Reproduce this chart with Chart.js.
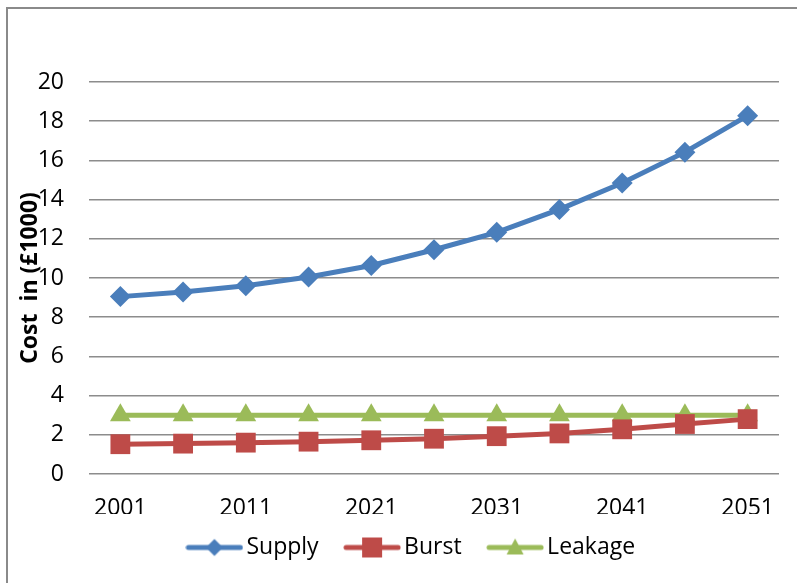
<!DOCTYPE html>
<html>
<head>
<meta charset="utf-8">
<script src="https://cdn.jsdelivr.net/npm/chart.js@4/dist/chart.umd.min.js"></script>
<style>
  html, body { margin: 0; padding: 0; background: #fff; }
  canvas { display: block; }
</style>
</head>
<body>
<canvas id="c" width="797" height="583"></canvas>
<script>
// Projected annual costs, 2001–2051 in five-year steps
const years = ['2001', '2006', '2011', '2016', '2021', '2026', '2031', '2036', '2041', '2046', '2051'];
const supply  = [9.05, 9.28, 9.60, 10.05, 10.64, 11.44, 12.33, 13.50, 14.85, 16.42, 18.28];
const burst   = [1.52, 1.55, 1.60, 1.65, 1.72, 1.80, 1.93, 2.07, 2.28, 2.55, 2.80];
const leakage = [3.0, 3.0, 3.0, 3.0, 3.0, 3.0, 3.0, 3.0, 3.0, 3.0, 3.0];
const yTicks  = { min: 0, max: 20, step: 2 };
const yTitle  = 'Cost  in (£1000)';

const FONT = "'Open Sans', 'DejaVu Sans', sans-serif";
const BLUE = '#4A7EBB', RED = '#BE4B48', GREEN = '#9BBB59';

// Legend swatch: a short line with the series marker on top
function legendSwatch(color, marker) {
  const cv = document.createElement('canvas');
  cv.width = 58; cv.height = 24;
  const g = cv.getContext('2d');
  g.strokeStyle = color; g.fillStyle = color;
  g.lineWidth = 5; g.lineCap = 'round';
  g.beginPath(); g.moveTo(3, 12); g.lineTo(55, 12); g.stroke();
  g.beginPath();
  if (marker === 'diamond') {
    g.moveTo(29, 3.5); g.lineTo(37.5, 12); g.lineTo(29, 20.5); g.lineTo(20.5, 12);
  } else if (marker === 'square') {
    g.rect(19, 2, 20, 20);
  } else {
    g.moveTo(29, 3); g.lineTo(37.5, 19); g.lineTo(20.5, 19);
  }
  g.closePath(); g.fill();
  return cv;
}

const swatches = [legendSwatch(BLUE, 'diamond'), legendSwatch(RED, 'square'), legendSwatch(GREEN, 'triangle')];

// Thin frame along the top and left edges, white background
const framePlugin = {
  id: 'frame',
  beforeDraw(chart) {
    const ctx = chart.ctx;
    ctx.save();
    ctx.fillStyle = '#fff';
    ctx.fillRect(0, 0, chart.width, chart.height);
    ctx.strokeStyle = '#8a8a8a';
    ctx.lineWidth = 2;
    ctx.beginPath();
    ctx.moveTo(7, chart.height); ctx.lineTo(7, 8); ctx.lineTo(chart.width, 8);
    ctx.stroke();
    ctx.restore();
  }
};

// Vertical axis title, set close to the tick labels
const yTitlePlugin = {
  id: 'yTitle',
  afterDraw(chart) {
    const ctx = chart.ctx, a = chart.chartArea;
    ctx.save();
    ctx.translate(30, (a.top + a.bottom) / 2);
    ctx.rotate(-Math.PI / 2);
    ctx.font = "bold 23px " + FONT;
    ctx.fillStyle = '#000';
    ctx.textAlign = 'center';
    ctx.textBaseline = 'middle';
    ctx.fillText(yTitle, 0, 0);
    ctx.restore();
  }
};

// Move the legend row slightly right and up
const legendShift = {
  id: 'legendShift',
  afterLayout(chart) {
    const lg = chart.legend;
    if (lg) {
      lg.left += 25; lg.right += 25;
      lg.top -= 11; lg.bottom -= 11;
    }
  }
};

const series = [
  { label: 'Supply',  data: supply,  color: BLUE,  style: 'rectRot',  radius: 10.5 },
  { label: 'Burst',   data: burst,   color: RED,   style: 'rect',     radius: 14 },
  { label: 'Leakage', data: leakage, color: GREEN, style: 'triangle', radius: 12 }
];

new Chart(document.getElementById('c'), {
  type: 'line',
  data: {
    labels: years,
    datasets: series.map(s => ({
      label: s.label,
      data: s.data,
      borderColor: s.color,
      backgroundColor: s.color,
      borderWidth: 5,
      pointStyle: s.style,
      pointRadius: s.radius,
      pointHoverRadius: s.radius,
      pointBorderWidth: 0,
      pointBackgroundColor: s.color,
      tension: 0
    }))
  },
  options: {
    responsive: false,
    animation: false,
    layout: { padding: { top: 82, left: 0, right: 18, bottom: 3 } },
    plugins: {
      tooltip: { enabled: false },
      legend: {
        position: 'bottom',
        labels: {
          usePointStyle: true,
          pointStyleWidth: 41,
          padding: 33,
          color: '#000',
          font: { family: FONT, size: 23 },
          generateLabels(chart) {
            return chart.data.datasets.map((ds, i) => ({
              text: ds.label,
              pointStyle: swatches[i],
              fillStyle: ds.borderColor,
              strokeStyle: ds.borderColor,
              lineWidth: 0,
              hidden: false,
              datasetIndex: i
            }));
          }
        }
      }
    },
    scales: {
      x: {
        type: 'category',
        offset: true,
        afterFit(scale) { scale.height = 40; },
        grid: { display: false },
        border: { display: false },
        ticks: {
          color: '#000',
          font: { family: FONT, size: 23 },
          padding: 13,
          maxRotation: 0,
          autoSkip: false,
          callback(v, i) { return i % 2 === 0 ? this.getLabelForValue(v) : ''; }
        }
      },
      y: {
        min: yTicks.min,
        max: yTicks.max,
        afterFit(scale) { scale.width = 89; },
        grid: { color: '#8c8c8c', lineWidth: 1.6, drawTicks: false },
        border: { display: false },
        ticks: {
          stepSize: yTicks.step,
          color: '#000',
          font: { family: FONT, size: 23 },
          padding: 25
        }
      }
    }
  },
  plugins: [framePlugin, yTitlePlugin, legendShift]
});
</script>
</body>
</html>
